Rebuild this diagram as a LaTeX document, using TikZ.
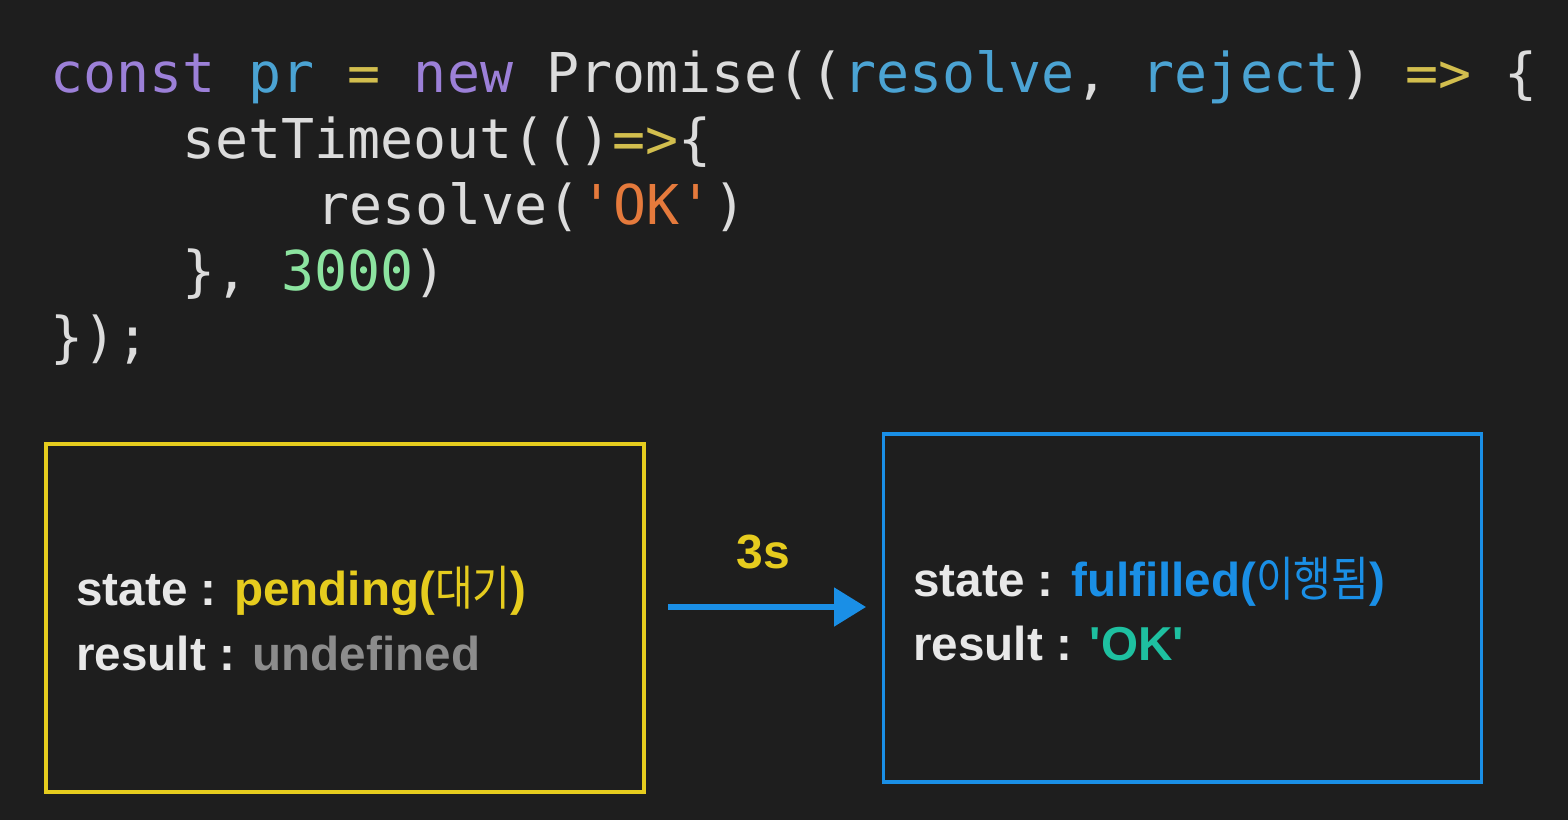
\documentclass[tikz,border=0pt]{standalone}
\usepackage{fontspec}
\setmainfont{Liberation Sans}
\setmonofont{DejaVu Sans Mono}
\newfontfamily\krfont{Noto Sans CJK KR}
\newfontfamily\noligfont{Liberation Sans}[Ligatures=ResetAll]
\usetikzlibrary{arrows.meta}
\definecolor{bg}{HTML}{1E1E1E}
\definecolor{cwhite}{HTML}{DCDCDC}
\definecolor{cpurp}{HTML}{9C80D8}
\definecolor{cblue}{HTML}{4BA3D3}
\definecolor{cyel}{HTML}{D2BE4E}
\definecolor{corange}{HTML}{E57A3C}
\definecolor{cgreen}{HTML}{8CE4A0}
\definecolor{byel}{HTML}{E6CC1E}
\definecolor{bblue}{HTML}{1A8FE6}
\definecolor{twhite}{HTML}{E8E8E8}
\definecolor{tgray}{HTML}{8C8C8C}
\definecolor{tteal}{HTML}{1EC0A0}
\newcommand{\kr}[1]{\scalebox{0.86}[1]{\krfont\mdseries #1}}
\newcommand{\sq}{{\noligfont\bfseries\char"27}}
\tikzset{
  codeline/.style={anchor=base west, inner sep=0pt, text=cwhite, font=\ttfamily\fontsize{27.45pt}{33pt}\selectfont},
  statebox/.style={draw, line width=1.7pt, minimum width=299pt, minimum height=174pt, inner sep=0pt},
  boxtext/.style={anchor=base west, inner sep=0pt, text=twhite, font=\bfseries\fontsize{23.8pt}{30pt}\selectfont},
}
\begin{document}
\begin{tikzpicture}[x=0.5pt,y=-0.5pt]
\fill[bg] (0,0) rectangle (1568,820);
\useasboundingbox (0,0) rectangle (1568,820);
% code
\node[codeline] (l1) at (50,92) {\color{cpurp}const \color{cblue}pr \color{cyel}= \color{cpurp}new \color{cwhite}Promise((\color{cblue}resolve\color{cwhite}, \color{cblue}reject\color{cwhite}) \color{cyel}=> \color{cwhite}\{};
\node[codeline] (l2) at (182,158) {setTimeout(()\textcolor{cyel}{=>}\{};
\node[codeline] (l3) at (316,224) {resolve(\textcolor{corange}{'OK'})};
\node[codeline] (l4) at (182,290) {\}, \textcolor{cgreen}{3000})};
\node[codeline] (l5) at (50,356) {\});};
% boxes
\node[statebox, draw=byel] (pend) at (345,618) {};
\node[statebox, draw=bblue] (ful) at (1182.5,608) {};
\node[boxtext] (s1) at (76,605) {state : \textcolor{byel}{pending(\kr{대기})}};
\node[boxtext] (r1) at (76,670) {result : \textcolor{tgray}{undefined}};
\node[boxtext] (s2) at (913,596) {state : \textcolor{bblue}{fulfilled(\kr{이행됨})}};
\node[boxtext] (r2) at (913,660) {result : \textcolor{tteal}{\sq OK\sq}};
% arrow
\coordinate (a0) at (668,607);
\coordinate (a1) at (866,607);
\draw[bblue, line width=2.6pt, -{Triangle[length=16pt,width=19pt]}] (a0) -- (a1);
\node[anchor=base, inner sep=0pt, text=byel, font=\bfseries\fontsize{24pt}{28pt}\selectfont] (t) at (763,568) {3s};
\end{tikzpicture}
\end{document}
